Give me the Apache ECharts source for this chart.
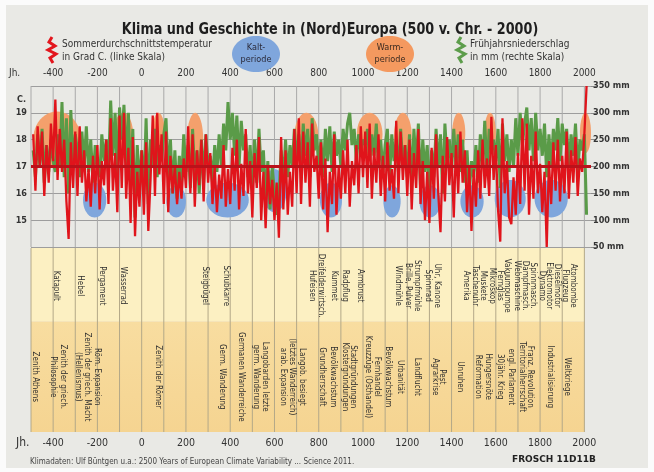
<!DOCTYPE html>
<html><head><meta charset="utf-8">
<script src="https://cdn.jsdelivr.net/npm/echarts@6/dist/echarts.min.js"></script>
<style>html,body{margin:0;padding:0;background:#fff}#c{width:654px;height:472px}</style>
</head><body><div id="c"></div>
<script>
// ---- data ----
const startYear = -490, stepYears = 10;
const tempC = [
18.2,16.1,18.5,17.0,18.3,15.9,17.8,16.4,18.6,17.2,
19.5,16.5,18.4,16.8,18.0,15.7,14.3,17.9,16.2,18.3,
15.9,18.5,16.4,17.6,15.7,16.9,15.5,17.4,16.0,17.8,
15.4,17.2,16.3,18.0,15.6,18.8,16.1,17.5,15.3,18.9,
16.2,19.0,15.8,17.7,14.9,18.1,14.4,16.8,15.5,17.6,
15.2,17.9,14.6,16.5,18.9,15.9,19.0,16.7,18.2,15.6,
18.3,15.3,17.4,16.0,17.0,15.6,16.8,15.8,17.3,16.2,
18.5,16.0,18.2,15.5,17.6,16.3,18.0,15.7,18.2,16.4,
17.5,15.6,17.0,15.3,16.7,15.8,17.8,15.5,16.9,15.6,
17.7,16.1,18.0,15.4,17.1,15.9,18.4,16.0,17.2,15.1,
17.5,16.2,18.1,15.0,16.8,14.7,17.0,15.6,16.5,15.0,
16.4,14.35,18.1,15.4,17.6,15.2,16.8,15.5,18.4,16.0,
18.8,15.6,18.3,16.4,17.9,15.5,18.6,16.8,17.4,15.8,
17.9,15.4,17.3,14.55,16.8,15.6,18.2,15.2,17.0,15.8,
17.6,16.0,18.0,15.5,17.2,16.3,17.8,16.0,18.5,16.6,
18.3,16.2,18.6,15.8,17.7,16.4,18.2,15.9,17.4,15.7,
17.9,16.1,16.9,15.8,18.7,16.0,18.3,16.5,17.8,15.9,
18.0,15.4,17.5,16.2,18.4,15.6,17.2,15.0,16.8,14.9,
17.7,15.8,18.2,16.0,14.55,17.4,15.7,18.1,16.3,17.5,
15.1,17.8,16.0,18.3,16.4,17.6,15.3,17.0,14.6,16.9,
15.5,17.6,15.8,18.0,16.2,17.3,15.9,18.85,16.5,17.8,
15.4,14.2,18.8,16.0,17.2,15.1,14.85,16.6,15.2,17.5,
15.6,18.8,16.1,18.6,15.2,17.4,15.8,18.3,16.0,17.1,
15.3,16.8,14.0,17.2,15.6,17.9,16.1,18.0,15.7,17.4,
16.0,18.3,15.8,17.6,16.4,18.1,15.9,17.3,16.8,18.2,20.0
];
const precipMm = [
230,180,260,200,270,170,240,190,250,210,
190,260,200,320,180,290,150,305,200,260,
230,180,265,200,275,190,250,170,240,200,
180,260,210,250,190,323,220,300,180,310,
250,315,200,300,170,270,105,240,160,230,
150,290,130,250,200,270,180,240,210,260,
290,180,250,150,230,140,220,170,260,190,
240,160,270,180,230,150,250,170,260,200,
220,170,240,190,260,200,280,230,320,250,
300,220,295,200,285,230,260,180,240,160,
250,170,270,190,230,140,210,120,200,150,
110,140,230,170,250,180,240,200,270,210,
260,190,280,220,270,180,290,230,260,200,
250,180,270,210,275,190,265,220,250,200,
270,230,280,300,240,270,210,260,230,250,
240,270,210,260,220,280,200,250,190,240,
270,180,260,210,250,190,270,200,240,180,
260,170,270,200,280,160,250,190,240,150,
230,180,270,200,260,150,280,210,250,190,
270,200,260,190,250,170,230,150,210,180,
240,170,260,200,285,190,270,230,250,210,
270,160,280,210,260,190,250,200,290,220,
300,240,280,310,230,290,210,300,230,270,
220,280,180,260,200,270,230,290,210,280,
240,270,200,260,220,280,190,250,230,260,110
];
// [fromYear, toYear, lowTempC, highTempC]
const warmPeriods = [
[-490,-275,17.0,19.05],[-129,-38,17.3,19.0],[47,105,17.4,19.0],[205,278,17.0,19.0],
[690,798,17.3,19.0],[972,1088,17.4,19.0],[1140,1220,17.3,19.0],[1403,1462,17.5,19.0],
[1548,1600,17.5,19.0],[1980,2030,17.5,19.0]
];
const coldPeriods = [
[-265,-160,15.1,16.4],[112,200,15.1,16.3],[292,484,15.1,16.4],[545,655,15.3,16.9],
[805,905,15.1,16.4],[1092,1170,15.1,16.3],[1255,1350,15.1,16.3],[1440,1545,15.1,16.3],
[1595,1735,15.1,16.5],[1775,1925,15.1,16.5]
];
const meanTemp = 17;
const centuryLines = [-500,-400,-300,-200,-100,0,100,200,300,400,500,600,700,800,900,1000,1100,1200,1300,1400,1500,1600,1700,1800,1900,2000];
const axisYears = [-400,-200,0,200,400,600,800,1000,1200,1400,1600,1800,2000];
const tempTicks = [15,16,17,18,19];
const inventions = [
[-386,'Katapult'],[-278,'Hebel'],[-179,'Pergament'],[-84,'Wasserrad'],
[287,'Steigbügel'],[382,'Schubkarre'],[770,'Hufeisen'],[811,'Dreifelderwirtsch.'],
[868,'Kummet'],[919,'Radpflug'],[987,'Armbrust'],[1159,'Windmühle'],[1204,'Brille, Pulver'],
[1245,'Strumpfmühle'],[1295,'Spinnrad'],[1335,'Uhr, Kanone'],[1466,'Amerika'],[1507,'Taschenuhr'],
[1543,'Muskete'],[1584,'Mikroskop'],[1620,'Fernglas'],[1652,'Vakuumpumpe'],[1697,'Webmaschine'],
[1733,'Dampfmasch.'],[1769,'Spinnmasch.'],[1810,'Dynamo'],[1841,'Elektromotor'],[1877,'Dieselmotor'],
[1914,'Flugzeug'],[1950,'Atombombe']
];
const events = [
[-481,'Zenith Athens'],[-400,'Philosophie'],[-355,'Zenith der griech.'],[-287,'(Hellenismus)'],
[-246,'Zenith der griech. Macht'],[-201,'Röm. Expansion'],[74,'Zenith der Römer'],
[364,'Germ. Wanderung'],[450,'Germanen Wanderreiche'],[517,'germ. Wanderung'],[558,'Langobarden letzte'],
[639,'arab. Expansion'],[680,'(letztes Wanderreich)'],[725,'Langob. besiegt'],[815,'Grundherrschaft'],
[865,'Bevölkwachstum'],[919,'Klostergründungen'],[956,'Stadtgründungen'],[1023,'Kreuzzüge (Osthandel)'],
[1064,'Fernhandel'],[1114,'Bevölkwachstum'],[1168,'Urbanität'],[1245,'Landflucht'],[1326,'Agrarkrise'],
[1358,'Pest'],[1439,'Unruhen'],[1520,'Reformation'],[1566,'Hungersnöte'],[1620,'30jähr. Krieg'],
[1670,'engl. Parlament'],[1719,'Territorialherrschaft'],[1755,'Franz. Revolution'],[1846,'Industrialisierung'],
[1923,'Weltkriege']
];
const bandSpan = [[-500,2000]];

// ---- chart ----
const FONT = '"Liberation Sans Narrow","DejaVu Sans Condensed","Liberation Sans",sans-serif';
const years = tempC.map((_, i) => startYear + i * stepYears);
const chart = echarts.init(document.getElementById('c'), null, {renderer: 'canvas'});

function ellipseRender(color) {
  return function (params, api) {
    const p0 = api.coord([api.value(0), api.value(3)]);
    const p1 = api.coord([api.value(1), api.value(2)]);
    const cx = (p0[0] + p1[0]) / 2, cy = (p0[1] + p1[1]) / 2;
    const rx = Math.abs(p1[0] - p0[0]) / 2, ry = Math.abs(p1[1] - p0[1]) / 2;
    const pts = [];
    for (let k = 0; k < 48; k++) {
      const a = k / 48 * Math.PI * 2;
      pts.push([cx + rx * Math.cos(a), cy + ry * Math.sin(a)]);
    }
    return {type: 'polygon', shape: {points: pts}, style: {fill: color}};
  };
}
function textRender(list, level) {
  return function (params, api) {
    const p = api.coord([api.value(0), level]);
    return {type: 'text', x: p[0], y: p[1], rotation: -Math.PI / 2,
      style: {text: list[params.dataIndex][1], fill: '#2e2e2e', font: '8px ' + FONT,
        align: 'center', verticalAlign: 'middle'}};
  };
}
const labelFmt = v => axisYears.includes(v) ? String(v) : '';

chart.setOption({
  backgroundColor: '#e9e9e5',
  animation: false,
  grid: [
    {left: 31, right: 63, top: 86, height: 161},
    {left: 31, right: 63, top: 248, height: 184}
  ],
  xAxis: [
    {gridIndex: 0, type: 'value', min: -500, max: 2030, interval: 100, position: 'top',
      axisLine: {show: false}, axisTick: {show: false}, splitLine: {show: false},
      axisLabel: {formatter: labelFmt, margin: 8, fontSize: 10, color: '#333', fontFamily: FONT}},
    {gridIndex: 1, type: 'value', min: -500, max: 2030, interval: 100, position: 'bottom',
      axisLine: {show: false}, axisTick: {show: false}, splitLine: {show: false},
      axisLabel: {formatter: labelFmt, margin: 6, fontSize: 10.5, color: '#333', fontFamily: FONT}}
  ],
  yAxis: [
    {gridIndex: 0, type: 'value', min: 14, max: 20, interval: 1, position: 'left',
      axisLine: {show: false}, axisTick: {show: false},
      splitLine: {show: true, lineStyle: {color: '#9d9d9d', width: 1}},
      axisLabel: {formatter: v => tempTicks.includes(v) ? String(v) : '', margin: 4, fontSize: 9,
        fontWeight: 'bold', color: '#333', fontFamily: FONT}},
    {gridIndex: 0, type: 'value', min: 50, max: 350, interval: 50, position: 'right',
      axisLine: {show: false}, axisTick: {show: true, length: 5, lineStyle: {color: '#8a8a8a'}},
      splitLine: {show: false},
      axisLabel: {formatter: v => v + ' mm', margin: 2, fontSize: 9, fontWeight: 'bold', color: '#333', fontFamily: FONT}},
    {gridIndex: 1, type: 'value', min: 0, max: 1, show: false}
  ],
  series: [
    {type: 'custom', xAxisIndex: 0, yAxisIndex: 0, z: 1, silent: true,
      data: centuryLines.map(v => [v, 17]),
      renderItem: (params, api) => {
        const a = api.coord([api.value(0), 20]), b = api.coord([api.value(0), 14]);
        return {type: 'line', shape: {x1: a[0], y1: a[1], x2: b[0], y2: b[1]}, style: {stroke: '#a9a9a9', lineWidth: 1}};
      }},
    {type: 'custom', xAxisIndex: 0, yAxisIndex: 0, z: 2, silent: true, data: warmPeriods,
      renderItem: ellipseRender('#f4a06c')},
    {type: 'custom', xAxisIndex: 0, yAxisIndex: 0, z: 2, silent: true, data: coldPeriods,
      renderItem: ellipseRender('#7fa6dc')},
    {type: 'line', xAxisIndex: 0, yAxisIndex: 1, z: 3, showSymbol: false, silent: true,
      data: years.map((y, i) => [y, precipMm[i]]),
      lineStyle: {color: '#5a9b48', width: 3}},
    {type: 'line', xAxisIndex: 0, yAxisIndex: 0, z: 4, showSymbol: false, silent: true,
      data: years.map((y, i) => [y, tempC[i]]),
      lineStyle: {color: '#e0141b', width: 2.3},
      markLine: {silent: true, symbol: 'none', label: {show: false},
        lineStyle: {color: '#bb111a', width: 3, type: 'solid'}, data: [{yAxis: meanTemp}]}},
    {type: 'custom', xAxisIndex: 1, yAxisIndex: 2, z: 1, silent: true, data: bandSpan,
      renderItem: (params, api) => {
        const a = api.coord([api.value(0), 1]), m = api.coord([api.value(1), 0.6]), b = api.coord([api.value(1), 0]);
        return {type: 'group', children: [
          {type: 'rect', shape: {x: a[0], y: a[1], width: m[0] - a[0], height: m[1] - a[1]}, style: {fill: '#fcf0c2'}},
          {type: 'rect', shape: {x: a[0], y: m[1], width: b[0] - a[0], height: b[1] - m[1]},
            style: {fill: new echarts.graphic.LinearGradient(0, 0, 0, 1, [{offset: 0, color: '#f8dda0'}, {offset: 1, color: '#f5d491'}])}}
        ]};
      }},
    {type: 'custom', xAxisIndex: 1, yAxisIndex: 2, z: 2, silent: true,
      data: centuryLines.map(v => [v, 0.5]),
      renderItem: (params, api) => {
        const a = api.coord([api.value(0), 1]), b = api.coord([api.value(0), 0]);
        return {type: 'line', shape: {x1: a[0], y1: a[1], x2: b[0], y2: b[1]}, style: {stroke: '#b3a888', lineWidth: 1}};
      }},
    {type: 'custom', xAxisIndex: 1, yAxisIndex: 2, z: 3, silent: true,
      data: inventions.map(d => [d[0], 0.8]), renderItem: textRender(inventions, 0.795)},
    {type: 'custom', xAxisIndex: 1, yAxisIndex: 2, z: 3, silent: true,
      data: events.map(d => [d[0], 0.3]), renderItem: textRender(events, 0.30)}
  ],
  graphic: [
    {type: 'rect', shape: {x: 0, y: 0, width: 654, height: 5}, style: {fill: '#fbfbfb'}, z: 100},
    {type: 'rect', shape: {x: 0, y: 0, width: 6, height: 472}, style: {fill: '#fbfbfb'}, z: 100},
    {type: 'rect', shape: {x: 648, y: 0, width: 6, height: 472}, style: {fill: '#fbfbfb'}, z: 100},
    {type: 'rect', shape: {x: 0, y: 468, width: 654, height: 4}, style: {fill: '#fbfbfb'}, z: 100},
    {type: 'text', x: 330, y: 30, scaleX: 0.86, style: {text: 'Klima und Geschichte in (Nord)Europa (500 v. Chr. - 2000)',
      font: 'bold 16.5px ' + FONT, fill: '#1e1e1e', align: 'center', verticalAlign: 'middle'}, z: 10},
    {type: 'polyline', shape: {points: [[52,37],[49,42],[55,46],[48,50],[56,54],[50,58],[53,63]]},
      style: {stroke: '#e3161d', lineWidth: 3, fill: null}, z: 10},
    {type: 'text', x: 62, y: 44, style: {text: 'Sommerdurchschnittstemperatur', font: '10px ' + FONT, fill: '#333', verticalAlign: 'middle'}, z: 10},
    {type: 'text', x: 62, y: 57, style: {text: 'in Grad C. (linke Skala)', font: '10px ' + FONT, fill: '#333', verticalAlign: 'middle'}, z: 10},
    {type: 'ellipse', shape: {cx: 256, cy: 54, rx: 24, ry: 18}, style: {fill: '#7fa6dc'}, z: 10},
    {type: 'text', x: 256, y: 54, style: {text: 'Kalt-\nperiode', font: '9px ' + FONT, fill: '#2a2a3a', align: 'center', verticalAlign: 'middle', lineHeight: 12}, z: 11},
    {type: 'ellipse', shape: {cx: 390, cy: 54, rx: 24, ry: 18}, style: {fill: '#f4995f'}, z: 10},
    {type: 'text', x: 390, y: 54, style: {text: 'Warm-\nperiode', font: '9px ' + FONT, fill: '#3a2a20', align: 'center', verticalAlign: 'middle', lineHeight: 12}, z: 11},
    {type: 'polyline', shape: {points: [[461,37],[458,42],[464,46],[457,50],[465,54],[459,58],[462,63]]},
      style: {stroke: '#5d9d4b', lineWidth: 3, fill: null}, z: 10},
    {type: 'text', x: 470, y: 44, style: {text: 'Frühjahrsniederschlag', font: '10px ' + FONT, fill: '#333', verticalAlign: 'middle'}, z: 10},
    {type: 'text', x: 470, y: 57, style: {text: 'in mm (rechte Skala)', font: '10px ' + FONT, fill: '#333', verticalAlign: 'middle'}, z: 10},
    {type: 'text', x: 9, y: 73, style: {text: 'Jh.', font: '10px ' + FONT, fill: '#333', verticalAlign: 'middle'}, z: 10},
    {type: 'text', x: 17, y: 100, style: {text: 'C.', font: 'bold 9px ' + FONT, fill: '#333', verticalAlign: 'middle'}, z: 10},
    {type: 'text', x: 16, y: 443, style: {text: 'Jh.', font: '12px ' + FONT, fill: '#333', verticalAlign: 'middle'}, z: 10},
    {type: 'text', x: 30, y: 462, style: {text: 'Klimadaten: Ulf Büntgen u.a.: 2500 Years of European Climate Variability ... Science 2011.', font: '8px ' + FONT, fill: '#444', verticalAlign: 'middle'}, z: 10},
    {type: 'text', x: 512, y: 460, style: {text: 'FROSCH 11D11B', font: 'bold 9px "DejaVu Sans", sans-serif', fill: '#222', verticalAlign: 'middle'}, z: 10}
  ]
});
</script></body></html>
